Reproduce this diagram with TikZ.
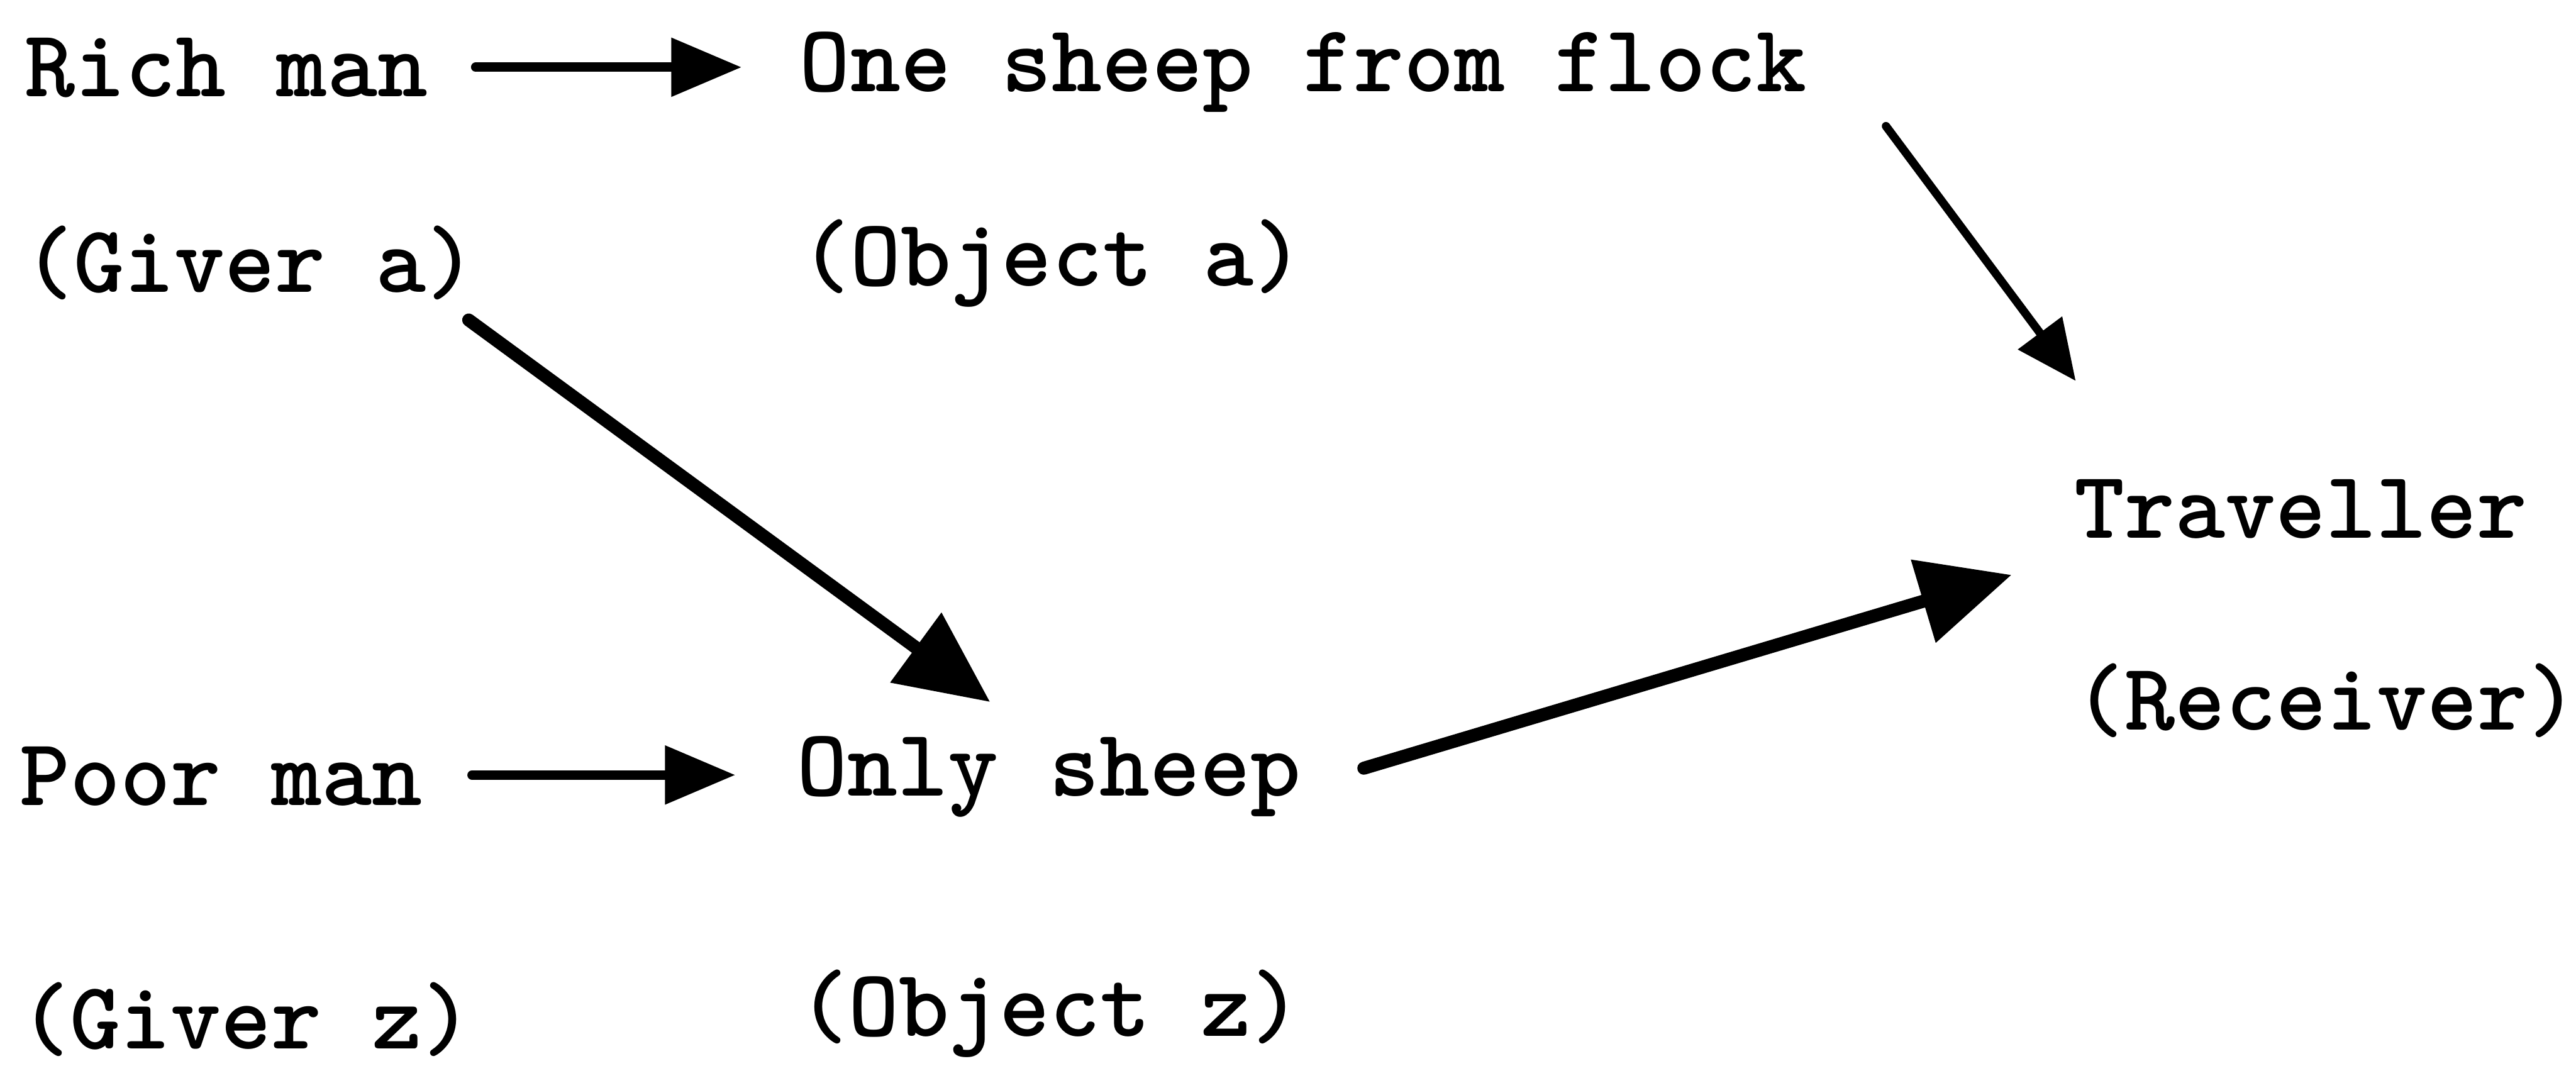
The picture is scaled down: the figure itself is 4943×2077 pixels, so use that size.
\documentclass[tikz,border=0pt]{standalone}
\usepackage{fontspec}
\usetikzlibrary{arrows.meta,calc}

\begin{document}
\begin{tikzpicture}[x=0.1pt,y=-0.1pt,
  label/.style={anchor=base west,inner sep=0pt,outer sep=0pt,
    font=\fontsize{18.4}{22}\selectfont\ttfamily\bfseries},
  thinarrow/.style={line width=1.8pt,line cap=round,
    -{Triangle[length=13.5pt,width=10.9pt]}},
  diagarrow/.style={line width=1.6pt,line cap=round,
    -{Triangle[length=11.5pt,width=10.2pt]}},
  heavyarrow/.style={line width=2.5pt,line cap=round,
    -{Triangle[length=17.7pt,width=16pt]}}]
  \useasboundingbox (0,0) rectangle (4943,2077);

  % givers, objects and receiver
  \node[label] (rich)     at (48,185)    {Rich man};
  \node[label] (givera)   at (45,560)    {(Giver a)};
  \node[label] (one)      at (1535,176)  {One sheep from flock};
  \node[label] (objecta)  at (1536,548)  {(Object a)};
  \node[label] (poor)     at (38,1545)   {Poor man};
  \node[label] (only)     at (1530,1527) {Only sheep};
  \node[label] (giverz)   at (38,2012)   {(Giver z)};
  \node[label] (objectz)  at (1532,1988) {(Object z)};
  \node[label] (trav)     at (3980,1032) {Traveller};
  \node[label] (receiver) at (3981,1400) {(Receiver)};

  % giving relations
  \draw[thinarrow]  ($(rich.base east)+(92,-56)$) -- ($(one.base west)+(-112,-47)$);
  \draw[thinarrow]  ($(poor.base east)+(95,-58)$) -- ($(only.base west)+(-119,-40)$);
  \draw[diagarrow]  ($(one.base east)+(152,66)$) -- ($(trav.base west)+(3,-301)$);
  \draw[heavyarrow] ($(givera.base east)+(-15,54)$) -- ($(only.base west)+(370,-180)$);
  \draw[heavyarrow] ($(only.base east)+(121,-53)$) -- ($(trav.base west)+(-120,71)$);
\end{tikzpicture}
\end{document}
